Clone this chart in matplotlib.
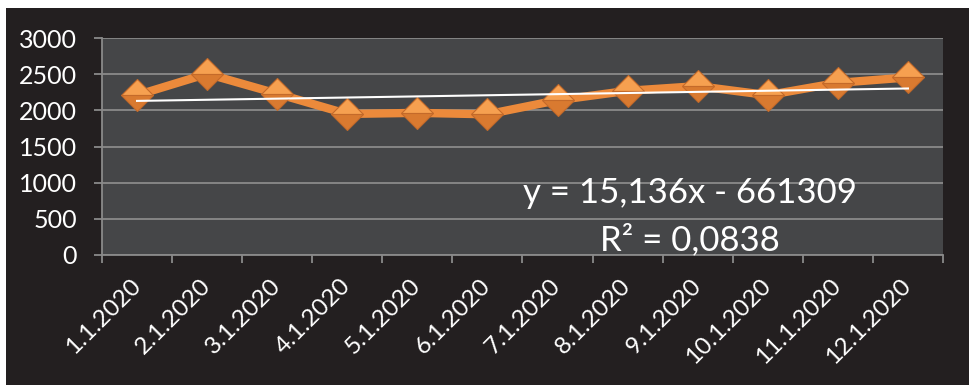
import numpy as np
import matplotlib
matplotlib.use("Agg")
import matplotlib.pyplot as plt
from matplotlib.patches import Rectangle

plt.rcParams['font.family'] = ['Lato', 'DejaVu Sans']

# Daily series
dates = ["1.1.2020", "2.1.2020", "3.1.2020", "4.1.2020", "5.1.2020", "6.1.2020",
         "7.1.2020", "8.1.2020", "9.1.2020", "10.1.2020", "11.1.2020", "12.1.2020"]
values = [2210, 2505, 2230, 1950, 1965, 1945, 2140, 2270, 2335, 2210, 2380, 2455]
y_ticks = [0, 500, 1000, 1500, 2000, 2500, 3000]
equation = "y = 15,136x - 661309"
r_squared = "R² = 0,0838"

W, H = 970, 385
fig = plt.figure(figsize=(W / 100, H / 100), dpi=100, facecolor="white")
# dark chart frame
fig.patches.append(Rectangle((6 / W, 0), 1 - 6 / W, (H - 8) / H,
                             transform=fig.transFigure, facecolor="#231F20",
                             edgecolor="none", zorder=-10))

ax = fig.add_axes([102 / W, (H - 255) / H, (943 - 102) / W, (255 - 38) / H])
ax.set_facecolor("#454648")

n = len(values)
x = np.arange(n)
ax.set_xlim(-0.5, n - 0.5)
ax.set_ylim(0, 3000)

grid_col = "#8A8A8A"
for s in ["top", "right"]:
    ax.spines[s].set_visible(False)
for s in ["left", "bottom"]:
    ax.spines[s].set_color(grid_col)
    ax.spines[s].set_linewidth(1.3)

ax.set_yticks(y_ticks)
ax.set_yticklabels([str(t) for t in y_ticks])
ax.yaxis.grid(True, color=grid_col, linewidth=1.3)
ax.set_axisbelow(True)
ax.tick_params(axis="y", length=6, width=1.3, color=grid_col, labelcolor="white",
               labelsize=18, pad=12)

# category labels at centers, tick marks at boundaries
ax.set_xticks(x)
ax.set_xticklabels(dates, rotation=45, ha="right", va="center",
                   rotation_mode="anchor")
ax.set_xticks(np.arange(n + 1) - 0.5, minor=True)
ax.tick_params(axis="x", which="major", length=0, labelsize=17.5,
               labelcolor="white", pad=20)
ax.tick_params(axis="x", which="minor", length=6, width=1.3, color=grid_col)

# series
ax.plot(x, values, color="#EC8A3B", linewidth=6, solid_joinstyle="round",
        zorder=3)
ax.plot(x, values, linestyle="none", marker="D", markersize=16,
        fillstyle="top", markerfacecolor="#F6A050",
        markerfacecoloralt="#D97A30", markeredgecolor="#C46A2A",
        markeredgewidth=0.8, zorder=4)

# linear trend
coef = np.polyfit(x, values, 1)
trend = np.polyval(coef, x)
ax.plot([x[0], x[-1]], [trend[0], trend[-1]], color="white", linewidth=1.5,
        zorder=5)

ax.text(0.699, 0.24, equation, transform=ax.transAxes, ha="center",
        va="baseline", color="white", fontsize=25, zorder=6)
ax.text(0.699, 0.023, r_squared, transform=ax.transAxes, ha="center",
        va="baseline", color="white", fontsize=25, zorder=6)

fig.savefig("out.png", dpi=100, facecolor=fig.get_facecolor())
